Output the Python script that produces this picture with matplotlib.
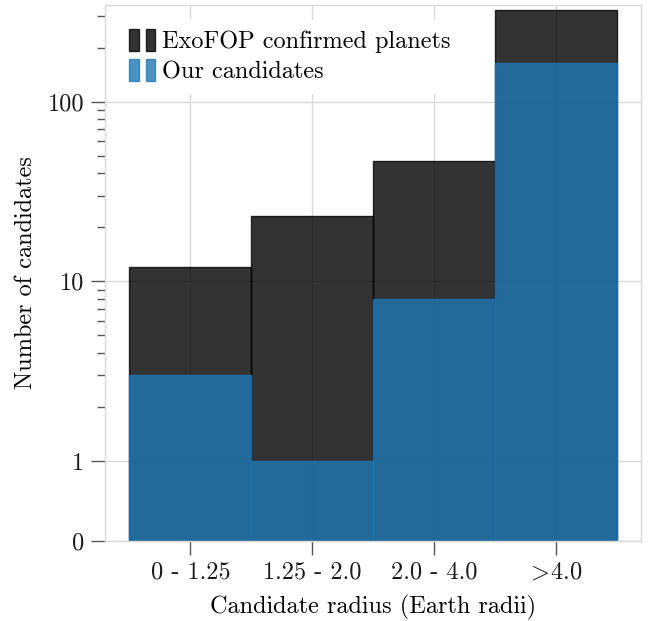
import numpy as np
import matplotlib
matplotlib.use("Agg")
import matplotlib.pyplot as plt
from matplotlib.legend_handler import HandlerTuple
from matplotlib.ticker import FixedLocator, NullFormatter

# ---------------------------------------------------------------------------
# Data
# ---------------------------------------------------------------------------
radius_bins = ["0 - 1.25", "1.25 - 2.0", "2.0 - 4.0", r"$\!>\!$4.0"]
exofop_counts = [12, 23, 47, 325]
our_counts = [3, 1, 8, 165]

y_major = [0, 1, 10, 100]
y_major_labels = ["0", "1", "10", "100"]
y_minor = [m * d for d in (1, 10, 100) for m in range(2, 10)]

# ---------------------------------------------------------------------------
# Style
# ---------------------------------------------------------------------------
plt.rcParams["font.family"] = ["cmr10", "DejaVu Serif"]
plt.rcParams["mathtext.fontset"] = "cm"
plt.rcParams["axes.formatter.use_mathtext"] = True
plt.rcParams["font.size"] = 17.5

grid_col = "#d9d9d9"
tick_col = "#555555"

fig = plt.figure(figsize=(6.57, 6.21), dpi=100)
ax = fig.add_axes([0.160, 0.129, 0.816, 0.863])

x = np.arange(len(radius_bins))
b1 = ax.bar(x, exofop_counts, width=1.0, color="black", alpha=0.8,
            edgecolor="black", linewidth=1.0, label="ExoFOP confirmed planets")
b2 = ax.bar(x, our_counts, width=1.0, color="#1f77b4", alpha=0.8,
            edgecolor="#1f77b4", linewidth=1.0, label="Our candidates")

ax.set_yscale("symlog", linthresh=1, linscale=0.4)
ax.set_ylim(0, 345)
ax.set_xlim(-0.7, 3.7)

ax.yaxis.set_major_locator(FixedLocator(y_major))
ax.set_yticklabels(y_major_labels)
ax.yaxis.set_minor_locator(FixedLocator(y_minor))
ax.yaxis.set_minor_formatter(NullFormatter())
ax.set_xticks(x)
ax.set_xticklabels(radius_bins)

ax.set_axisbelow(True)
ax.grid(True, which="major", color=grid_col, linewidth=1.0)
for s in ax.spines.values():
    s.set_color(grid_col)
    s.set_linewidth(1.0)
ax.tick_params(axis="both", which="major", direction="out", length=10,
               width=1.0, color=tick_col, labelcolor="#1a1a1a", pad=5)
ax.tick_params(axis="y", which="minor", direction="out", length=6,
               width=1.0, color=tick_col)

ax.set_xlabel("Candidate radius (Earth radii)", labelpad=8)
ax.set_ylabel("Number of candidates", labelpad=8)

leg = ax.legend([(b1[0], b1[1]), (b2[0], b2[1])],
                ["ExoFOP confirmed planets", "Our candidates"],
                handler_map={tuple: HandlerTuple(ndivide=None, pad=0.3)},
                loc="upper left", frameon=True, framealpha=1.0,
                edgecolor="white", facecolor="white", fancybox=False,
                handlelength=1.05, handleheight=1.0, handletextpad=0.3,
                labelspacing=0.22, borderaxespad=0.6)

fig.savefig("out.png", dpi=100)
